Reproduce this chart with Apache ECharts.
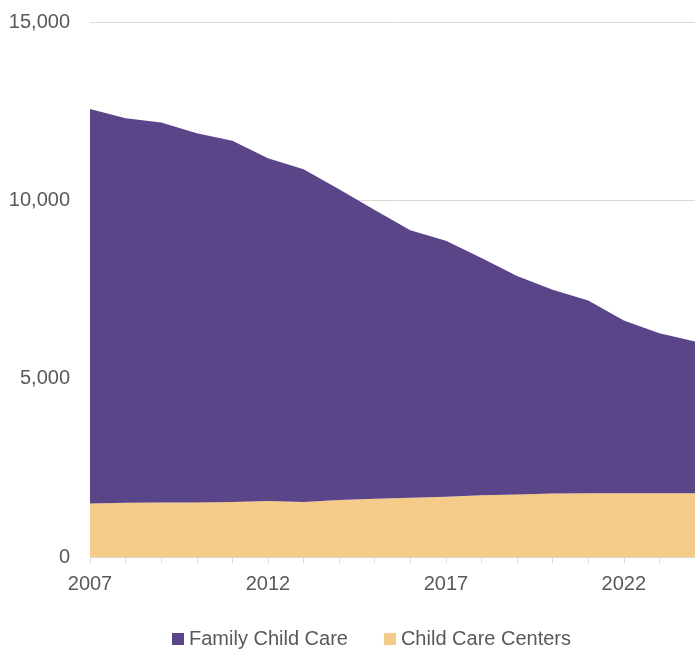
<!DOCTYPE html>
<html>
<head>
<meta charset="utf-8">
<script src="https://cdn.jsdelivr.net/npm/echarts@6/dist/echarts.min.js"></script>
<style>html,body{margin:0;padding:0;background:#fff}#c{width:695px;height:650px}</style>
</head>
<body>
<div id="c"></div>
<script>
const years = ['2007','2008','2009','2010','2011','2012','2013','2014','2015','2016','2017','2018','2019','2020','2021','2022','2023','2024'];
const childCareCenters = [1500,1520,1530,1530,1540,1570,1540,1600,1630,1660,1690,1730,1750,1780,1790,1790,1790,1790];
const familyChildCare = [11060,10780,10650,10350,10130,9610,9330,8710,8100,7500,7180,6650,6130,5710,5400,4840,4480,4250];
const yTicks = {min: 0, max: 15000, interval: 5000};

const FONT = 'Liberation Sans, Arial, sans-serif';
const chart = echarts.init(document.getElementById('c'), null, {renderer: 'canvas'});
chart.setOption({
  animation: false,
  backgroundColor: '#ffffff',
  grid: {left: 90, right: 0, top: 22, bottom: 93, containLabel: false},
  legend: {
    data: ['Family Child Care', 'Child Care Centers'],
    left: 167, top: 624,
    icon: 'rect', itemWidth: 12, itemHeight: 12, itemGap: 36,
    textStyle: {color: '#595959', fontSize: 20, fontFamily: FONT}
  },
  xAxis: {
    type: 'category', data: years, boundaryGap: false,
    axisLine: {show: true, lineStyle: {color: '#d9d9d9', width: 1}},
    axisTick: {show: true, interval: 0, length: 6, lineStyle: {color: '#d9d9d9'}},
    axisLabel: {interval: 4, color: '#595959', fontSize: 20, fontFamily: FONT, margin: 17},
    splitLine: {show: false}
  },
  yAxis: {
    type: 'value', min: yTicks.min, max: yTicks.max, interval: yTicks.interval,
    axisLine: {show: false}, axisTick: {show: false},
    axisLabel: {color: '#595959', fontSize: 20, fontFamily: FONT, margin: 20,
      formatter: v => v.toLocaleString('en-US')},
    splitLine: {lineStyle: {color: '#d9d9d9', width: 1}}
  },
  series: [
    {name: 'Child Care Centers', type: 'line', stack: 'total', data: childCareCenters,
     showSymbol: false, symbol: 'none', lineStyle: {width: 0}, areaStyle: {color: '#f4cb88', opacity: 1},
     itemStyle: {color: '#f4cb88'}},
    {name: 'Family Child Care', type: 'line', stack: 'total', data: familyChildCare,
     showSymbol: false, symbol: 'none', lineStyle: {width: 0}, areaStyle: {color: '#5b4589', opacity: 1},
     itemStyle: {color: '#5b4589'}}
  ]
});
</script>
</body>
</html>
